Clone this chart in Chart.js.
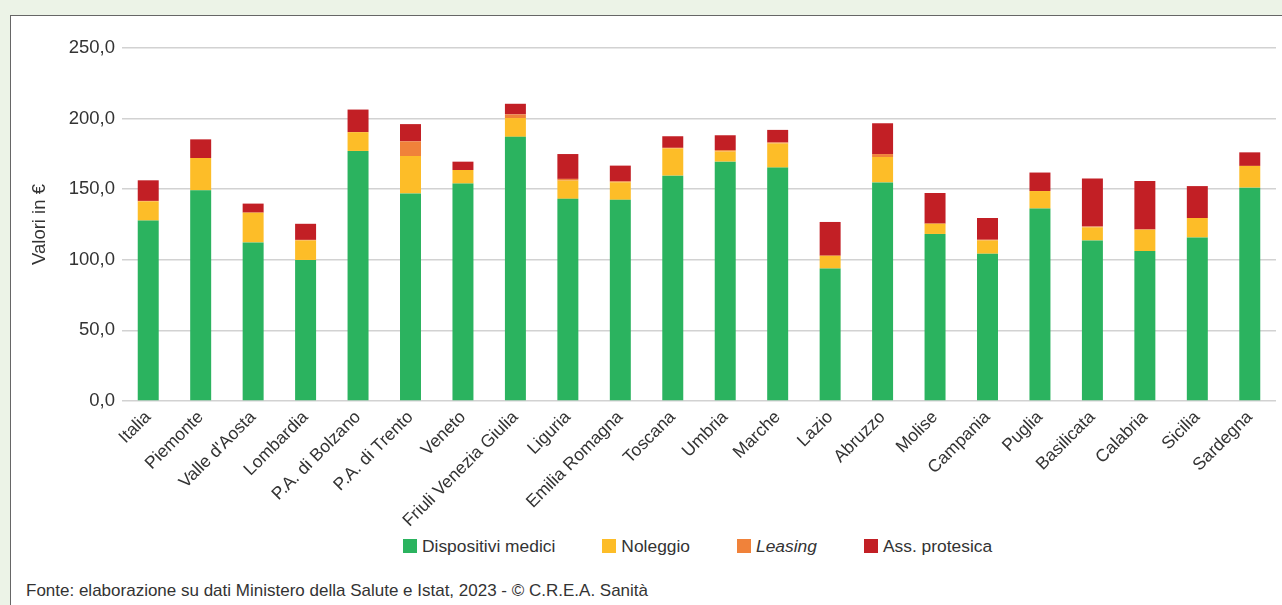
<!DOCTYPE html>
<html>
<head>
<meta charset="utf-8">
<script src="https://cdn.jsdelivr.net/npm/chart.js@4/dist/chart.umd.min.js"></script>
<style>
  html, body { margin: 0; padding: 0; }
  body { width: 1282px; height: 605px; background: #ecf3e7; position: relative; overflow: hidden;
         font-family: "Liberation Sans", Arial, sans-serif; color: #333; }
  #box { position: absolute; left: 10px; top: 15px; width: 1280px; height: 600px; background: #fff;
         border-left: 1.5px solid #666; border-top: 1.5px solid #666; box-sizing: border-box; }
  #wrap { position: absolute; left: 11px; top: 16px; width: 1271px; height: 514px; }
  #legend { position: absolute; left: 403px; top: 534px; height: 24px; display: flex; align-items: center; font-size: 17.4px; }
  .item { display: flex; align-items: center; margin-right: 47px; }
  .sw { width: 14px; height: 14px; margin-right: 5px; }
  #footer { position: absolute; left: 26px; top: 581px; font-size: 17px; color: #333; white-space: nowrap; }
</style>
</head>
<body>
<div id="box"></div>
<div id="wrap"><canvas id="c"></canvas></div>
<div id="legend"></div>
<div id="footer">Fonte: elaborazione su dati Ministero della Salute e Istat, 2023 - © C.R.E.A. Sanità</div>
<script>
const categories = ["Italia","Piemonte","Valle d'Aosta","Lombardia","P.A. di Bolzano","P.A. di Trento","Veneto","Friuli Venezia Giulia","Liguria","Emilia Romagna","Toscana","Umbria","Marche","Lazio","Abruzzo","Molise","Campania","Puglia","Basilicata","Calabria","Sicilia","Sardegna"];
const dispositiviMedici = [127.8,149.2,112.3,99.9,177.1,147.0,154.0,187.1,143.2,142.5,159.6,169.5,165.3,93.8,154.8,118.3,104.3,136.3,113.7,106.2,115.8,151.1];
const noleggio = [13.6,22.9,21.1,13.8,13.3,26.5,9.6,13.3,12.9,12.4,19.3,7.2,17.1,9.1,18.0,7.3,9.4,12.4,9.3,15.2,13.8,15.4];
const leasing = [0.3,0,0,0.4,0,10.4,0,2.6,1.2,0.7,0.4,1.0,0.7,0,2.1,0,0.5,0,0.5,0,0,0];
const assProtesica = [14.6,13.2,6.4,11.4,16.0,12.2,5.9,7.5,17.6,11.1,8.2,10.5,8.9,23.9,21.8,21.7,15.4,13.1,34.1,34.4,22.6,9.6];
const seriesNames = ["Dispositivi medici","Noleggio","Leasing","Ass. protesica"];
const yTickLabels = ["0,0","50,0","100,0","150,0","200,0","250,0"];
const yTitle = "Valori in €";

const colors = ["#2bb35f","#fdbd28","#f0823a","#c21f25"];
const seriesData = [dispositiviMedici, noleggio, leasing, assProtesica];
const FONT = "'Liberation Sans', Arial, sans-serif";

const chart = new Chart(document.getElementById('c'), {
  type: 'bar',
  data: {
    labels: categories,
    datasets: seriesNames.map((n, i) => ({
      label: n, data: seriesData[i], backgroundColor: colors[i],
      barPercentage: 0.4, categoryPercentage: 1.0, borderWidth: 0
    }))
  },
  options: {
    responsive: true, maintainAspectRatio: false, animation: false,
    layout: { padding: { top: 32, left: 0, right: 6, bottom: 0 } },
    plugins: { legend: { display: false }, tooltip: { enabled: false } },
    scales: {
      x: {
        stacked: true,
        grid: { display: false, drawTicks: false },
        border: { display: false },
        ticks: { color: '#333', font: { family: FONT, size: 17.5 }, maxRotation: 45, minRotation: 45, autoSkip: false, padding: 6 },
        afterFit: (s) => { s.height = 129; }
      },
      y: {
        stacked: true, min: 0, max: 250,
        grid: { color: '#d2d2d2', lineWidth: 1.5, drawTicks: false },
        border: { display: false },
        ticks: { stepSize: 50, color: '#333', font: { family: FONT, size: 18.5 }, padding: 7,
                 callback: (v, i) => yTickLabels[i] },
        title: { display: true, text: yTitle, color: '#333', font: { family: FONT, size: 18.5 }, padding: { top: 18, bottom: 0 } },
        afterFit: (s) => { s.width = 111; }
      }
    }
  }
});

const lg = document.getElementById('legend');
seriesNames.forEach((n, i) => {
  const it = document.createElement('div'); it.className = 'item';
  const sw = document.createElement('div'); sw.className = 'sw'; sw.style.background = colors[i];
  const tx = document.createElement('span'); tx.textContent = n;
  if (n === 'Leasing') tx.style.fontStyle = 'italic';
  it.appendChild(sw); it.appendChild(tx); lg.appendChild(it);
});
</script>
</body>
</html>
